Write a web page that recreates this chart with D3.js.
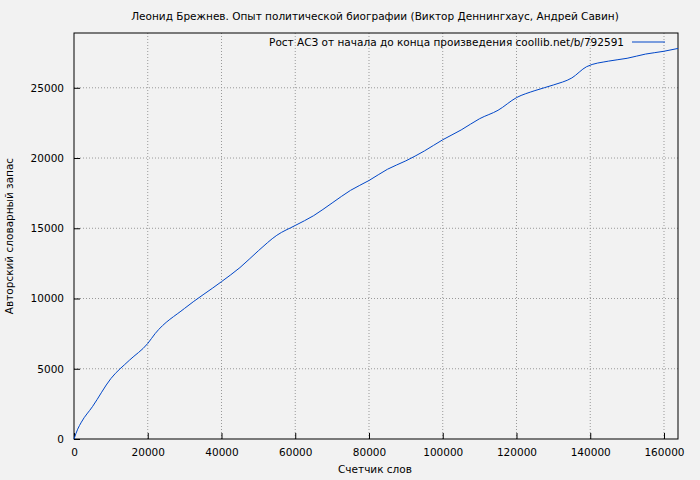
<!DOCTYPE html>
<html><head><meta charset="utf-8">
<script src="https://cdn.jsdelivr.net/npm/d3@7"></script>
<style>body{margin:0;background:#f2f2f2}svg{display:block;font-family:"DejaVu Sans",sans-serif;font-size:10.5px}</style>
</head><body><svg></svg>
<script>
const words = [0,1000,2000,5000,10000,15000,20000,22000,30000,40000,45000,50000,55000,60000,65000,70000,75000,80000,85000,90000,95000,100000,105000,110000,115000,120000,125000,130000,135000,139000,145000,150000,155000,160000,163800];
const vocab = [0,700,1200,2300,4300,5600,6800,7500,9300,11200,12200,13400,14500,15200,15900,16800,17700,18400,19200,19800,20500,21300,22000,22800,23400,24300,24800,25200,25700,26500,26900,27100,27400,27600,27800];
const xTicks = [0,20000,40000,60000,80000,100000,120000,140000,160000];
const yTicks = [0,5000,10000,15000,20000,25000];

const width = 700, height = 480;
const margin = {top: 33, right: 22, bottom: 41, left: 74};
const innerWidth = width - margin.left - margin.right;
const innerHeight = height - margin.top - margin.bottom;

const svg = d3.select('svg').attr('width', width).attr('height', height);
svg.append('rect').attr('width', width).attr('height', height).attr('fill', '#f2f2f2');

const g = svg.append('g').attr('transform', `translate(${margin.left},${margin.top})`);

const x = d3.scaleLinear().domain([0, 163800]).range([0, innerWidth]);
const y = d3.scaleLinear().domain([0, 28900]).range([innerHeight, 0]);

// grid
g.selectAll('.gx').data(xTicks.slice(1)).join('line')
  .attr('x1', d => x(d)).attr('x2', d => x(d)).attr('y1', 0).attr('y2', innerHeight)
  .attr('stroke', '#999').attr('stroke-dasharray', '1,2');
g.selectAll('.gy').data(yTicks.slice(1)).join('line')
  .attr('x1', 0).attr('x2', innerWidth).attr('y1', d => y(d)).attr('y2', d => y(d))
  .attr('stroke', '#999').attr('stroke-dasharray', '1,2');

const xAxis = g.append('g').attr('transform', `translate(0,${innerHeight})`)
  .call(d3.axisBottom(x).tickValues(xTicks).tickFormat(d3.format('d')).tickSizeInner(-6).tickSizeOuter(0).tickPadding(10));
const yAxis = g.append('g')
  .call(d3.axisLeft(y).tickValues(yTicks).tickFormat(d3.format('d')).tickSizeInner(-6).tickSizeOuter(0).tickPadding(10));
[xAxis, yAxis].forEach(a => {
  a.select('.domain').remove();
  a.selectAll('text').attr('font-family', '"DejaVu Sans",sans-serif').attr('font-size', 10.5).attr('fill', '#000');
  a.selectAll('line').attr('stroke', '#000');
});
g.append('rect').attr('width', innerWidth).attr('height', innerHeight)
  .attr('fill', 'none').attr('stroke', '#000');

const line = d3.line().x((d, i) => x(words[i])).y(d => y(d)).curve(d3.curveMonotoneX);
g.append('path').datum(vocab).attr('d', line).attr('fill', 'none').attr('stroke', '#0046c8').attr('stroke-width', 1);

// legend
g.append('text').attr('x', 550).attr('y', 13).attr('text-anchor', 'end')
  .text('Рост АСЗ от начала до конца произведения coollib.net/b/792591');
g.append('line').attr('x1', 558).attr('x2', 591).attr('y1', 9).attr('y2', 9).attr('stroke', '#0046c8');

svg.append('text').attr('x', 375).attr('y', 20).attr('text-anchor', 'middle')
  .text('Леонид Брежнев. Опыт политической биографии (Виктор Деннингхаус, Андрей Савин)');
svg.append('text').attr('x', 375).attr('y', 473).attr('text-anchor', 'middle').text('Счетчик слов');
svg.append('text').attr('transform', `translate(13,${margin.top + innerHeight / 2}) rotate(-90)`)
  .attr('text-anchor', 'middle').text('Авторский словарный запас');
</script></body></html>
